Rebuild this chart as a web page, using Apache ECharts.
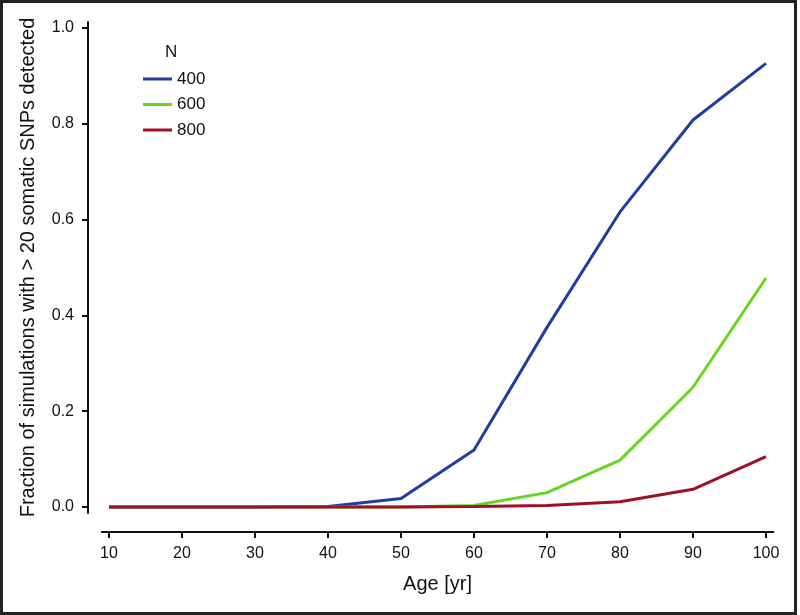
<!DOCTYPE html>
<html>
<head>
<meta charset="utf-8">
<script src="https://cdn.jsdelivr.net/npm/echarts@6/dist/echarts.min.js"></script>
<style>
	html, body { margin: 0; padding: 0; background: #fff; }
	#chart { width: 800px; height: 615px; }
</style>
</head>
<body>
<div id="chart"></div>
<script>
var ages = [10, 20, 30, 40, 50, 60, 70, 80, 90, 100]
var n400 = [0, 0, 0, 0.001, 0.018, 0.119, 0.375, 0.616, 0.808, 0.926]
var n600 = [0, 0, 0, 0, 0, 0.003, 0.030, 0.098, 0.250, 0.478]
var n800 = [0, 0, 0, 0, 0, 0.001, 0.003, 0.011, 0.037, 0.105]
var xTicks = [10, 20, 30, 40, 50, 60, 70, 80, 90, 100]
var yTicks = [0, 0.2, 0.4, 0.6, 0.8, 1.0]

var font = '"Liberation Sans", Arial, sans-serif'

function pairs(vals) {
	return ages.map(function (a, i) { return [a, vals[i]] })
}

function line(name, vals, color) {
	return {
		name: name,
		type: 'line',
		symbol: 'none',
		data: pairs(vals),
		lineStyle: { color: color, width: 3 },
		itemStyle: { color: color }
	}
}

var myChart = echarts.init(document.getElementById('chart'))
myChart.setOption({
	animation: false,
	title: {
		text: 'N',
		left: 165,
		top: 44,
		padding: 0,
		textStyle: { fontFamily: font, fontSize: 17, fontWeight: 'normal', color: '#111' }
	},
	legend: {
		orient: 'vertical',
		left: 143,
		top: 70.5,
		padding: 0,
		icon: 'rect',
		itemWidth: 29,
		itemHeight: 3,
		itemGap: 8.5,
		textStyle: { fontFamily: font, fontSize: 17, lineHeight: 17, color: '#111' },
		data: ['400', '600', '800']
	},
	grid: { left: 101.7, right: 26.7, top: 22, bottom: 102 },
	xAxis: {
		type: 'value',
		min: 9,
		max: 101,
		offset: 19,
		name: 'Age [yr]',
		nameLocation: 'middle',
		nameGap: 42,
		nameTextStyle: { fontFamily: font, fontSize: 20, color: '#111' },
		axisLine: { onZero: false, lineStyle: { color: '#111', width: 2 } },
		axisTick: { length: 6, lineStyle: { color: '#111', width: 2 }, customValues: xTicks },
		axisLabel: { fontFamily: font, fontSize: 16, color: '#111', margin: 14, customValues: xTicks },
		splitLine: { show: false }
	},
	yAxis: {
		type: 'value',
		min: -0.0125,
		max: 1.0125,
		offset: 13.7,
		name: 'Fraction of simulations with > 20 somatic SNPs detected',
		nameLocation: 'middle',
		nameGap: 50,
		nameTextStyle: { fontFamily: font, fontSize: 20, color: '#111' },
		axisLine: { show: true, onZero: false, lineStyle: { color: '#111', width: 2 } },
		axisTick: { show: true, length: 6, lineStyle: { color: '#111', width: 2 }, customValues: yTicks },
		axisLabel: {
			fontFamily: font, fontSize: 16, color: '#111', margin: 14,
			customValues: yTicks,
			formatter: function (v) { return v.toFixed(1) }
		},
		splitLine: { show: false }
	},
	graphic: [{
		type: 'rect',
		shape: { x: 1.5, y: 1.5, width: 794, height: 612 },
		style: { fill: 'none', stroke: '#222', lineWidth: 3 },
		silent: true
	}],
	series: [
		line('400', n400, '#1f3f9f'),
		line('600', n600, '#66d620'),
		line('800', n800, '#9e0f2a')
	]
})
</script>
</body>
</html>
